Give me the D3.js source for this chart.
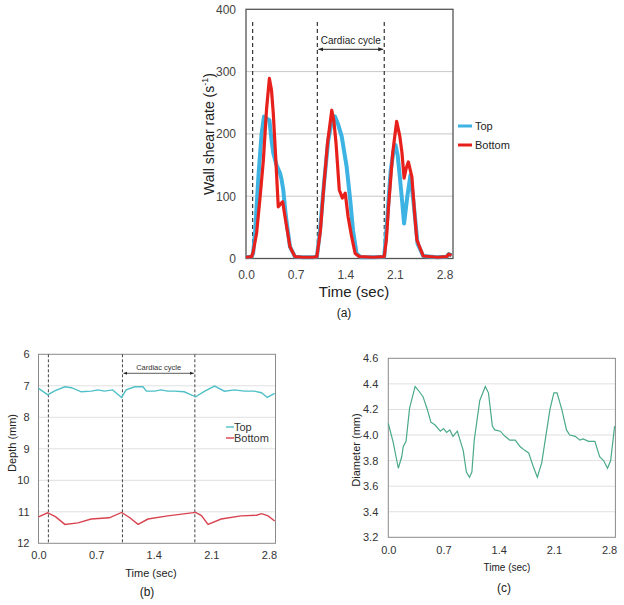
<!DOCTYPE html>
<html><head><meta charset="utf-8">
<script src="https://cdn.jsdelivr.net/npm/d3@7/dist/d3.min.js"></script>
<style>body{margin:0;background:#fff}svg{display:block;font-family:"Liberation Sans",Arial,sans-serif}</style>
</head><body><svg id="c" width="624" height="605"></svg>
<script>
// ---------- Panel (a): wall shear rate ----------
const aTicksX = [0.0, 0.7, 1.4, 2.1, 2.8];
const aTicksY = [0, 100, 200, 300, 400];
const aTopT = [0,0.08,0.1,0.127,0.18,0.22,0.254,0.29,0.33,0.36,0.385,0.43,0.48,0.5,0.526,0.56,0.62,0.69,0.8,0.95,1.0,1.04,1.1,1.16,1.21,1.255,1.3,1.35,1.42,1.47,1.51,1.56,1.62,1.8,1.95,1.99,2.04,2.08,2.11,2.14,2.17,2.2,2.23,2.275,2.32,2.36,2.42,2.5,2.7,2.83,2.86,2.9];
const aTopV = [2,3,8,41,140,200,228,225,222,190,169,150,137,128,110,70,19,3,2,2,3,40,120,190,220,228,215,196,147,94,45,8,2,2,3,60,140,172,182,165,131,95,56,99,134,94,24,4,2,3,7,5];
const aBotT = [0,0.08,0.1,0.15,0.2,0.245,0.29,0.33,0.36,0.385,0.42,0.455,0.49,0.517,0.56,0.62,0.69,0.8,0.95,1.0,1.05,1.09,1.15,1.21,1.24,1.27,1.316,1.36,1.4,1.44,1.49,1.54,1.6,1.8,1.95,1.98,2.01,2.07,2.125,2.17,2.2,2.23,2.26,2.29,2.34,2.38,2.41,2.5,2.7,2.83,2.86,2.9];
const aBotV = [2,3,10,41,100,158,240,289,270,233,160,83,88,91,60,19,3,2,2,3,45,105,185,238,220,185,110,97,105,67,35,8,3,2,3,30,83,170,220,196,170,129,145,155,131,70,30,4,2,3,7,5];
const aDashT = [0.094, 1.006, 1.95];
const aSeries = ["Top", "Bottom"];

// ---------- Panel (b): depth ----------
const bTicksX = [0.0, 0.7, 1.4, 2.1, 2.8];
const bTicksY = [6, 7, 8, 9, 10, 11, 12];
const bTopT = [0,0.114,0.19,0.32,0.4,0.52,0.64,0.72,0.8,0.9,1.01,1.065,1.17,1.27,1.31,1.41,1.49,1.57,1.65,1.77,1.91,2.02,2.14,2.26,2.38,2.5,2.62,2.71,2.78,2.87];
const bTopV = [7.08,7.29,7.17,7.03,7.06,7.19,7.17,7.13,7.17,7.13,7.37,7.13,7.03,7.03,7.17,7.17,7.13,7.17,7.17,7.19,7.35,7.17,7.01,7.17,7.13,7.17,7.17,7.22,7.37,7.24];
const bBotT = [0,0.11,0.21,0.32,0.48,0.64,0.86,1.01,1.11,1.21,1.33,1.57,1.91,1.98,2.06,2.22,2.46,2.65,2.71,2.79,2.87];
const bBotV = [11.16,11.03,11.16,11.4,11.35,11.23,11.19,11.02,11.19,11.4,11.23,11.13,11.02,11.12,11.4,11.23,11.13,11.11,11.06,11.13,11.29];
const bDashT = [0.12, 1.02, 1.9];

// ---------- Panel (c): diameter ----------
const cTicksX = [0.0, 0.7, 1.4, 2.1, 2.8];
const cTicksY = [3.2, 3.4, 3.6, 3.8, 4.0, 4.2, 4.4, 4.6];
const cT = [0,0.063,0.127,0.17,0.19,0.225,0.27,0.34,0.38,0.44,0.495,0.54,0.59,0.66,0.7,0.74,0.78,0.82,0.875,0.95,0.99,1.03,1.06,1.09,1.16,1.23,1.27,1.32,1.35,1.42,1.48,1.54,1.61,1.67,1.73,1.78,1.84,1.89,1.945,2.01,2.05,2.1,2.14,2.2,2.26,2.3,2.37,2.43,2.47,2.54,2.62,2.68,2.73,2.78,2.82,2.87];
const cV = [4.09,3.94,3.74,3.83,3.91,3.95,4.21,4.38,4.35,4.3,4.2,4.1,4.08,4.03,4.05,4.02,4.04,3.99,4.03,3.88,3.71,3.67,3.71,3.96,4.27,4.38,4.33,4.07,4.04,4.03,3.99,3.96,3.96,3.91,3.88,3.86,3.75,3.67,3.78,4.04,4.2,4.33,4.33,4.2,4.04,4.0,3.99,3.96,3.97,3.95,3.95,3.83,3.8,3.74,3.8,4.07];

const svg = d3.select("#c");
const zip = (T, V) => T.map((t, i) => [t, V[i]]);
const defs = svg.append("defs");
defs.append("marker").attr("id", "arr").attr("viewBox", "0 0 10 10").attr("refX", 10).attr("refY", 5)
  .attr("markerWidth", 5).attr("markerHeight", 5).attr("orient", "auto-start-reverse")
  .append("path").attr("d", "M0,1L10,5L0,9z").attr("fill", "#222");

// ===== Panel (a) =====
{
  const x = d3.scaleLinear().domain([0, 2.92]).range([246, 453]);
  const y = d3.scaleLinear().domain([0, 400]).range([258.5, 9.3]);
  const g = svg.append("g");
  g.selectAll(".grid").data(aTicksY.slice(1, -1)).join("line")
    .attr("x1", x(0)).attr("x2", x(2.92)).attr("y1", d => y(d)).attr("y2", d => y(d))
    .attr("stroke", "#c8c8c8").attr("stroke-width", 1);
  g.append("rect").attr("x", x(0)).attr("y", y(400)).attr("width", x(2.92) - x(0)).attr("height", y(0) - y(400))
    .attr("fill", "none").attr("stroke", "#555").attr("stroke-width", 1.3);
  const ya = d3.axisLeft(y).tickValues(aTicksY).tickSize(0).tickPadding(10).tickFormat(d3.format("d"));
  const ay = g.append("g").attr("transform", `translate(${x(0)},0)`).call(ya);
  ay.select(".domain").remove();
  ay.selectAll("text").attr("font-size", 12).attr("fill", "#444").attr("font-family", "Liberation Sans, Arial");
  const xa = d3.axisBottom(x).tickValues(aTicksX).tickSize(0).tickPadding(12).tickFormat(d3.format(".1f"));
  const ax = g.append("g").attr("transform", `translate(0,${y(0)})`).call(xa);
  ax.select(".domain").remove();
  ax.selectAll("text").attr("font-size", 12).attr("fill", "#444").attr("font-family", "Liberation Sans, Arial");
  g.selectAll(".dash").data(aDashT).join("line")
    .attr("x1", d => x(d)).attr("x2", d => x(d)).attr("y1", 22).attr("y2", y(0))
    .attr("stroke", "#222").attr("stroke-width", 1.1).attr("stroke-dasharray", "4,3");
  const line = d3.line().x(d => x(d[0])).y(d => y(d[1]));
  g.append("path").datum(zip(aTopT, aTopV)).attr("d", line).attr("fill", "none")
    .attr("stroke", "#3db3e3").attr("stroke-width", 4).attr("stroke-linejoin", "round");
  g.append("path").datum(zip(aBotT, aBotV)).attr("d", line).attr("fill", "none")
    .attr("stroke", "#e8201c").attr("stroke-width", 3.2).attr("stroke-linejoin", "round");
  g.append("line").attr("x1", x(aDashT[1]) + 1).attr("x2", x(aDashT[2]) - 1).attr("y1", 49.3).attr("y2", 49.3)
    .attr("stroke", "#222").attr("stroke-width", 1).attr("marker-start", "url(#arr)").attr("marker-end", "url(#arr)");
  g.append("text").attr("x", (x(aDashT[1]) + x(aDashT[2])) / 2).attr("y", 44).attr("text-anchor", "middle")
    .attr("font-size", 10).attr("fill", "#222").text("Cardiac cycle");
  const yl = g.append("text").attr("transform", "translate(214,134) rotate(-90)").attr("text-anchor", "middle")
    .attr("font-size", 14).attr("fill", "#222");
  yl.append("tspan").text("Wall shear rate (s");
  yl.append("tspan").attr("font-size", 9).attr("dy", -6).text("-1");
  yl.append("tspan").attr("dy", 6).text(")");
  g.append("text").attr("x", 354).attr("y", 297).attr("text-anchor", "middle").attr("font-size", 15)
    .attr("fill", "#222").text("Time (sec)");
  g.append("text").attr("x", 344).attr("y", 317).attr("text-anchor", "middle").attr("font-size", 12)
    .attr("fill", "#222").text("(a)");
  const cols = ["#3db3e3", "#e8201c"];
  aSeries.forEach((s, i) => {
    const yy = 126 + i * 19;
    g.append("line").attr("x1", 458).attr("x2", 472).attr("y1", yy).attr("y2", yy).attr("stroke", cols[i]).attr("stroke-width", 3);
    g.append("text").attr("x", 475).attr("y", yy + 4).attr("font-size", 11).attr("fill", "#222").text(s);
  });
}

// ===== Panel (b) =====
{
  const x = d3.scaleLinear().domain([0, 2.88]).range([38.5, 275.5]);
  const y = d3.scaleLinear().domain([6, 12]).range([354.3, 543.3]);
  const g = svg.append("g");
  g.selectAll(".grid").data(bTicksY.slice(1, -1)).join("line")
    .attr("x1", x(0)).attr("x2", x(2.88)).attr("y1", d => y(d)).attr("y2", d => y(d))
    .attr("stroke", "#e0e0e0").attr("stroke-width", 1);
  g.append("rect").attr("x", x(0)).attr("y", y(6)).attr("width", x(2.88) - x(0)).attr("height", y(12) - y(6))
    .attr("fill", "none").attr("stroke", "#8a8a8a").attr("stroke-width", 1);
  const ya = d3.axisLeft(y).tickValues(bTicksY).tickSize(0).tickPadding(9).tickFormat(d3.format("d"));
  const ay = g.append("g").attr("transform", `translate(${x(0)},0)`).call(ya);
  ay.select(".domain").remove();
  ay.selectAll("text").attr("font-size", 11).attr("fill", "#333").attr("font-family", "Liberation Sans, Arial");
  const xa = d3.axisBottom(x).tickValues(bTicksX).tickSize(0).tickPadding(8).tickFormat(d3.format(".1f"));
  const ax = g.append("g").attr("transform", `translate(0,${y(12)})`).call(xa);
  ax.select(".domain").remove();
  ax.selectAll("text").attr("font-size", 11).attr("fill", "#333").attr("font-family", "Liberation Sans, Arial");
  g.selectAll(".dash").data(bDashT).join("line")
    .attr("x1", d => x(d)).attr("x2", d => x(d)).attr("y1", y(6)).attr("y2", y(12))
    .attr("stroke", "#444").attr("stroke-width", 1).attr("stroke-dasharray", "3,2");
  const line = d3.line().x(d => x(d[0])).y(d => y(d[1]));
  g.append("path").datum(zip(bTopT, bTopV)).attr("d", line).attr("fill", "none")
    .attr("stroke", "#4fc0c8").attr("stroke-width", 1.4);
  g.append("path").datum(zip(bBotT, bBotV)).attr("d", line).attr("fill", "none")
    .attr("stroke", "#d8434f").attr("stroke-width", 1.4);
  g.append("line").attr("x1", x(bDashT[1]) + 1).attr("x2", x(bDashT[2]) - 1).attr("y1", 373.3).attr("y2", 373.3)
    .attr("stroke", "#333").attr("stroke-width", 0.8).attr("marker-start", "url(#arr)").attr("marker-end", "url(#arr)");
  g.append("text").attr("x", (x(bDashT[1]) + x(bDashT[2])) / 2).attr("y", 370).attr("text-anchor", "middle")
    .attr("font-size", 7.5).attr("fill", "#333").text("Cardiac cycle");
  g.append("text").attr("transform", "translate(16,443) rotate(-90)").attr("text-anchor", "middle")
    .attr("font-size", 11).attr("fill", "#222").text("Depth (mm)");
  g.append("text").attr("x", 151).attr("y", 577).attr("text-anchor", "middle").attr("font-size", 11)
    .attr("fill", "#222").text("Time (sec)");
  g.append("text").attr("x", 147).attr("y", 596).attr("text-anchor", "middle").attr("font-size", 12)
    .attr("fill", "#222").text("(b)");
  const cols = ["#4fc0c8", "#d8434f"];
  ["Top", "Bottom"].forEach((s, i) => {
    const yy = 427 + i * 11;
    g.append("line").attr("x1", 226).attr("x2", 234).attr("y1", yy).attr("y2", yy).attr("stroke", cols[i]).attr("stroke-width", 1.4);
    g.append("text").attr("x", 234).attr("y", yy + 4).attr("font-size", 11).attr("fill", "#333").text(s);
  });
}

// ===== Panel (c) =====
{
  const x = d3.scaleLinear().domain([0, 2.88]).range([388.3, 615.4]);
  const y = d3.scaleLinear().domain([3.2, 4.6]).range([537.3, 358.3]);
  const g = svg.append("g");
  g.selectAll(".grid").data(cTicksY.slice(1, -1)).join("line")
    .attr("x1", x(0)).attr("x2", x(2.88)).attr("y1", d => y(d)).attr("y2", d => y(d))
    .attr("stroke", "#e0e0e0").attr("stroke-width", 1);
  g.append("rect").attr("x", x(0)).attr("y", y(4.6)).attr("width", x(2.88) - x(0)).attr("height", y(3.2) - y(4.6))
    .attr("fill", "none").attr("stroke", "#8a8a8a").attr("stroke-width", 1);
  const ya = d3.axisLeft(y).tickValues(cTicksY).tickSize(0).tickPadding(10).tickFormat(d3.format(".1f"));
  const ay = g.append("g").attr("transform", `translate(${x(0)},0)`).call(ya);
  ay.select(".domain").remove();
  ay.selectAll("text").attr("font-size", 11).attr("fill", "#333").attr("font-family", "Liberation Sans, Arial");
  const xa = d3.axisBottom(x).tickValues(cTicksX).tickSize(0).tickPadding(9).tickFormat(d3.format(".1f"));
  const ax = g.append("g").attr("transform", `translate(0,${y(3.2)})`).call(xa);
  ax.select(".domain").remove();
  ax.selectAll("text").attr("font-size", 11).attr("fill", "#333").attr("font-family", "Liberation Sans, Arial");
  const line = d3.line().x(d => x(d[0])).y(d => y(d[1]));
  g.append("path").datum(zip(cT, cV)).attr("d", line).attr("fill", "none")
    .attr("stroke", "#4aa98a").attr("stroke-width", 1.2);
  g.append("text").attr("transform", "translate(360,450) rotate(-90)").attr("text-anchor", "middle")
    .attr("font-size", 11).attr("fill", "#222").text("Diameter (mm)");
  g.append("text").attr("x", 507).attr("y", 571).attr("text-anchor", "middle").attr("font-size", 10)
    .attr("fill", "#222").text("Time (sec)");
  g.append("text").attr("x", 504).attr("y", 592).attr("text-anchor", "middle").attr("font-size", 12)
    .attr("fill", "#222").text("(c)");
}
</script></body></html>
